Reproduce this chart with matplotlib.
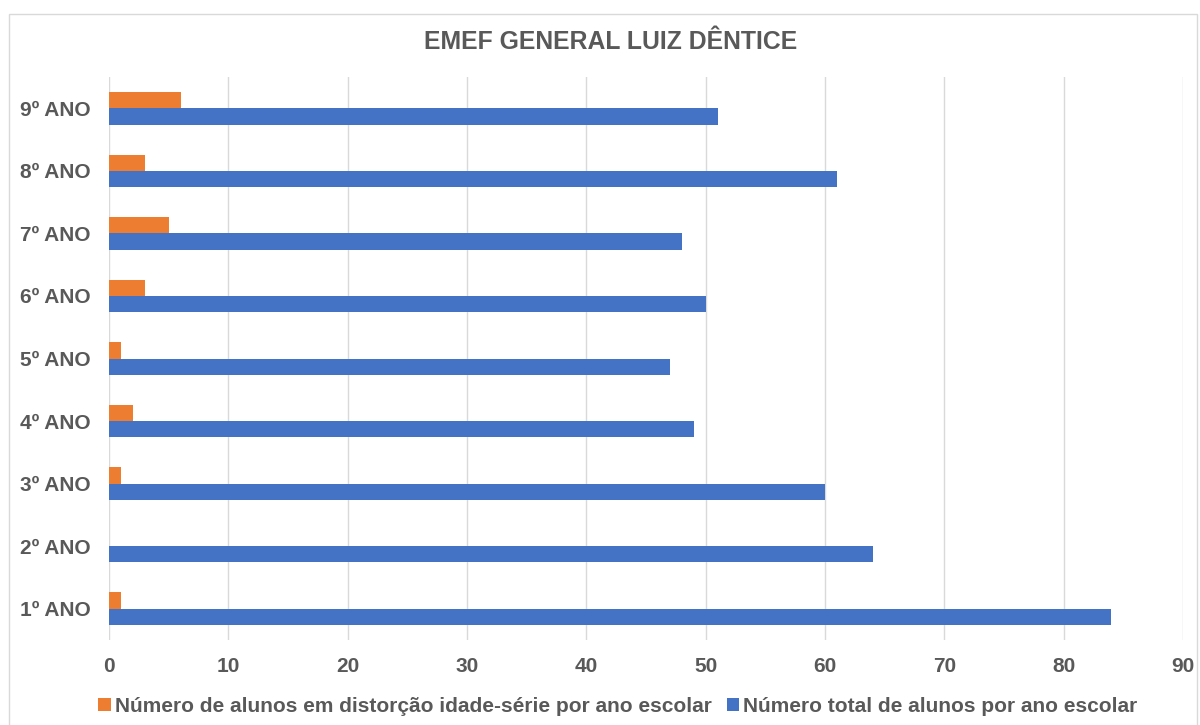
import matplotlib.pyplot as plt
from matplotlib.patches import Rectangle

plt.rcParams['font.family'] = ['Liberation Sans', 'DejaVu Sans']

anos = ['1º ANO', '2º ANO', '3º ANO', '4º ANO', '5º ANO', '6º ANO', '7º ANO', '8º ANO', '9º ANO']
distorcao = [1, 0, 1, 2, 1, 3, 5, 3, 6]
total = [84, 64, 60, 49, 47, 50, 48, 61, 51]

cor_txt = '#595959'
h = 0.26

fig = plt.figure(figsize=(12, 7.25), dpi=100)
ax = fig.add_axes([109 / 1200, 1 - 640 / 725, (1183 - 109) / 1200, (640 - 77) / 725])

pos = list(range(len(anos)))
ax.barh([p - h / 2 for p in pos], total, height=h, color='#4472C4',
        label='Número total de alunos por ano escolar')
ax.barh([p + h / 2 for p in pos], distorcao, height=h, color='#ED7D31',
        label='Número de alunos em distorção idade-série por ano escolar')

ax.set_xlim(0, 90)
ax.set_ylim(-0.5, 8.5)
ax.set_xticks(range(0, 91, 10))
ax.set_yticks(pos)
ax.set_yticklabels(anos)
ax.tick_params(length=0, labelsize=15, labelcolor=cor_txt)
for t in ax.get_xticklabels() + ax.get_yticklabels():
    t.set_fontweight('bold')
ax.tick_params(axis='y', pad=13)
ax.tick_params(axis='x', pad=12)
ax.xaxis.grid(True, color='#d9d9d9', linewidth=1)
ax.set_axisbelow(True)
for s in ax.spines.values():
    s.set_visible(False)

fig.text(611 / 1200, 1 - 42 / 725, 'EMEF GENERAL LUIZ DÊNTICE', ha='center', va='center',
         fontsize=17.8, fontweight='bold', color=cor_txt)

hs, ls = ax.get_legend_handles_labels()
leg = fig.legend(hs[::-1], ls[::-1], loc='center', bbox_to_anchor=(618 / 1200, 1 - 706 / 725),
                 ncol=2, frameon=False, handlelength=0.6, handleheight=0.6, handletextpad=0.2,
                 columnspacing=0.7, prop={'size': 15, 'weight': 'bold'})
for t in leg.get_texts():
    t.set_color(cor_txt)

fig.patches.append(Rectangle((9 / 1200, -0.01), 1188 / 1200, 1 - 14 / 725 + 0.01,
                             transform=fig.transFigure, fill=False, edgecolor='#d9d9d9', linewidth=1))

fig.savefig('out.png', dpi=100)
